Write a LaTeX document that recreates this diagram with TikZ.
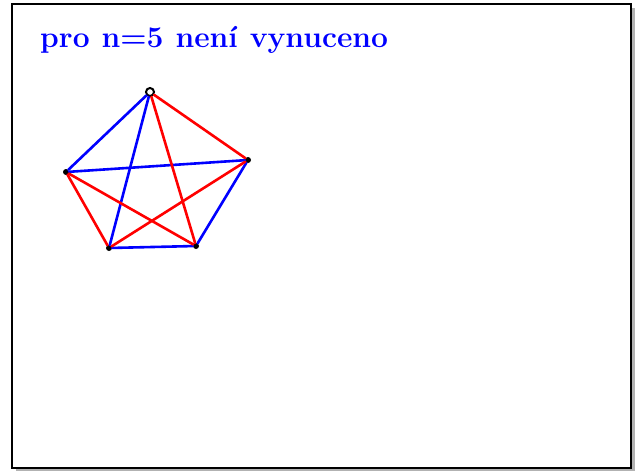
\documentclass[tikz,border=0pt]{standalone}
\usepackage{fontspec}
\begin{document}
\begin{tikzpicture}[x=1pt,y=-1pt,
  vrchol/.style={circle,fill=black,inner sep=0pt,minimum size=6pt},
  hrana/.style={line width=2.6pt,line cap=round}]
  \useasboundingbox (0,0) rectangle (639,471);
  % ram se stinem
  \fill[gray!60] (16,8) rectangle (635,471);
  \filldraw[fill=white,draw=black,line width=1.6pt] (12,4) rectangle (631,468);
  % nadpis
  \node[anchor=base west,text=blue,inner sep=0pt,font=\fontsize{30}{34}\selectfont\bfseries] (nadpis) at (40,47) {\spaceskip=12pt\relax pro n=5 není vynuceno};
  % vrcholy K_5
  \node[vrchol,fill=white,draw=black,line width=2pt,minimum size=8pt] (a) at (150,92) {};
  \node[vrchol] (b) at (248,160) {};
  \node[vrchol] (c) at (196,246) {};
  \node[vrchol] (d) at (109,248) {};
  \node[vrchol] (e) at (66,172) {};
  % modre hrany
  \draw[hrana,blue] (a) -- (e);
  \draw[hrana,blue] (a) -- (d);
  \draw[hrana,blue] (e) -- (b);
  \draw[hrana,blue] (b) -- (c);
  \draw[hrana,blue] (d) -- (c);
  % cervene hrany
  \draw[hrana,red] (a) -- (b);
  \draw[hrana,red] (a) -- (c);
  \draw[hrana,red] (e) -- (d);
  \draw[hrana,red] (e) -- (c);
  \draw[hrana,red] (d) -- (b);
\end{tikzpicture}
\end{document}
